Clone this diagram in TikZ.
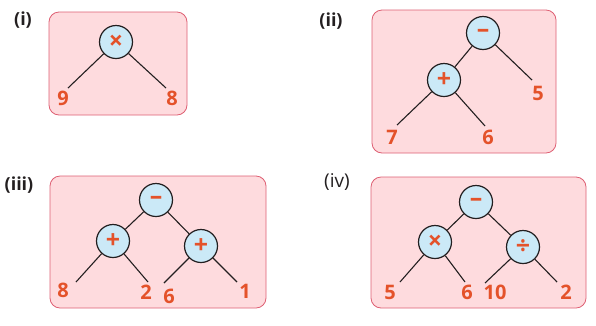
\documentclass[tikz,border=0pt]{standalone}
\usepackage{fontspec}
\setmainfont{Open Sans}
\usetikzlibrary{positioning}
\definecolor{panelPink}{RGB}{254, 219, 222}
\definecolor{panelEdge}{RGB}{222, 95, 115}
\definecolor{opBlue}{RGB}{203, 233, 247}
\definecolor{numRed}{RGB}{228, 82, 42}
\definecolor{lineDark}{RGB}{35, 31, 32}

\begin{document}
\begin{tikzpicture}[
    x=1pt, y=-1pt,
    panel/.style={draw=panelEdge, line width=0.8pt, fill=panelPink, rounded corners=10pt},
    opnode/.style={circle, draw=lineDark, line width=1.2pt, fill=opBlue, minimum size=33pt, inner sep=0pt, font=\bfseries\fontsize{25}{25}\selectfont, text=numRed},
    leaf/.style={font=\bfseries\fontsize{20}{20}\selectfont, text=numRed, inner sep=0pt},
    tag/.style={font=\bfseries\fontsize{18}{18}\selectfont, text=lineDark, inner sep=0pt},
    branch/.style={line width=1.1pt, lineDark}
]
    \useasboundingbox (0,0) rectangle (596,325);

    % (i) 9 x 8
    \node[tag] (tagi) at (23,20) {(i)};
    \draw[panel] (49,12) rectangle (187,115);
    \node[opnode] (i-root) at (116,42) {×};
    \node[leaf] (i-a) at (63,98) {9};
    \node[leaf] (i-b) at (172,98) {8};
    \coordinate (i-ae) at (68,88);
    \coordinate (i-be) at (166,88);
    \draw[branch] (i-root) -- (i-ae);
    \draw[branch] (i-root) -- (i-be);

    % (ii) (7 + 6) - 5
    \node[tag] (tagii) at (331,21) {(ii)};
    \draw[panel] (372,10) rectangle (556,153);
    \node[opnode] (ii-root) at (483,33) {--};
    \node[opnode] (ii-plus) at (444,80) {+};
    \node[leaf] (ii-a) at (392,137) {7};
    \node[leaf] (ii-b) at (488,137) {6};
    \node[leaf] (ii-c) at (538,93) {5};
    \coordinate (ii-ae) at (397,125);
    \coordinate (ii-be) at (485,126);
    \coordinate (ii-ce) at (532,80);
    \draw[branch] (ii-root) -- (ii-plus);
    \draw[branch] (ii-root) -- (ii-ce);
    \draw[branch] (ii-plus) -- (ii-ae);
    \draw[branch] (ii-plus) -- (ii-be);

    % (iii) (8 + 2) - (6 + 1)
    \node[tag] (tagiii) at (19,185) {(iii)};
    \draw[panel] (50,176) rectangle (266,308);
    \node[opnode] (iii-root) at (156,200) {--};
    \node[opnode] (iii-left) at (113,241) {+};
    \node[opnode] (iii-right) at (201,246) {+};
    \node[leaf] (iii-a) at (63,290) {8};
    \node[leaf] (iii-b) at (146,292) {2};
    \node[leaf] (iii-c) at (169,296) {6};
    \node[leaf] (iii-d) at (245,291) {1};
    \coordinate (iii-ae) at (76,282);
    \coordinate (iii-be) at (148,282);
    \coordinate (iii-ce) at (164,283);
    \coordinate (iii-de) at (237,282);
    \draw[branch] (iii-root) -- (iii-left);
    \draw[branch] (iii-root) -- (iii-right);
    \draw[branch] (iii-left) -- (iii-ae);
    \draw[branch] (iii-left) -- (iii-be);
    \draw[branch] (iii-right) -- (iii-ce);
    \draw[branch] (iii-right) -- (iii-de);

    % (iv) (5 x 6) - (10 / 2)
    \node[tag, font=\fontsize{19}{19}\selectfont] (tagiv) at (337,182) {(iv)};
    \draw[panel] (371,177) rectangle (586,308);
    \node[opnode] (iv-root) at (476,202) {--};
    \node[opnode] (iv-left) at (435,242) {×};
    \node[opnode] (iv-right) at (523,247) {÷};
    \node[leaf] (iv-a) at (390,292) {5};
    \node[leaf] (iv-b) at (467,292) {6};
    \node[leaf] (iv-c) at (495,292) {10};
    \node[leaf] (iv-d) at (566,292) {2};
    \coordinate (iv-ae) at (400,282);
    \coordinate (iv-be) at (465,282);
    \coordinate (iv-ce) at (485,283);
    \coordinate (iv-de) at (557,282);
    \draw[branch] (iv-root) -- (iv-left);
    \draw[branch] (iv-root) -- (iv-right);
    \draw[branch] (iv-left) -- (iv-ae);
    \draw[branch] (iv-left) -- (iv-be);
    \draw[branch] (iv-right) -- (iv-ce);
    \draw[branch] (iv-right) -- (iv-de);
\end{tikzpicture}
\end{document}
